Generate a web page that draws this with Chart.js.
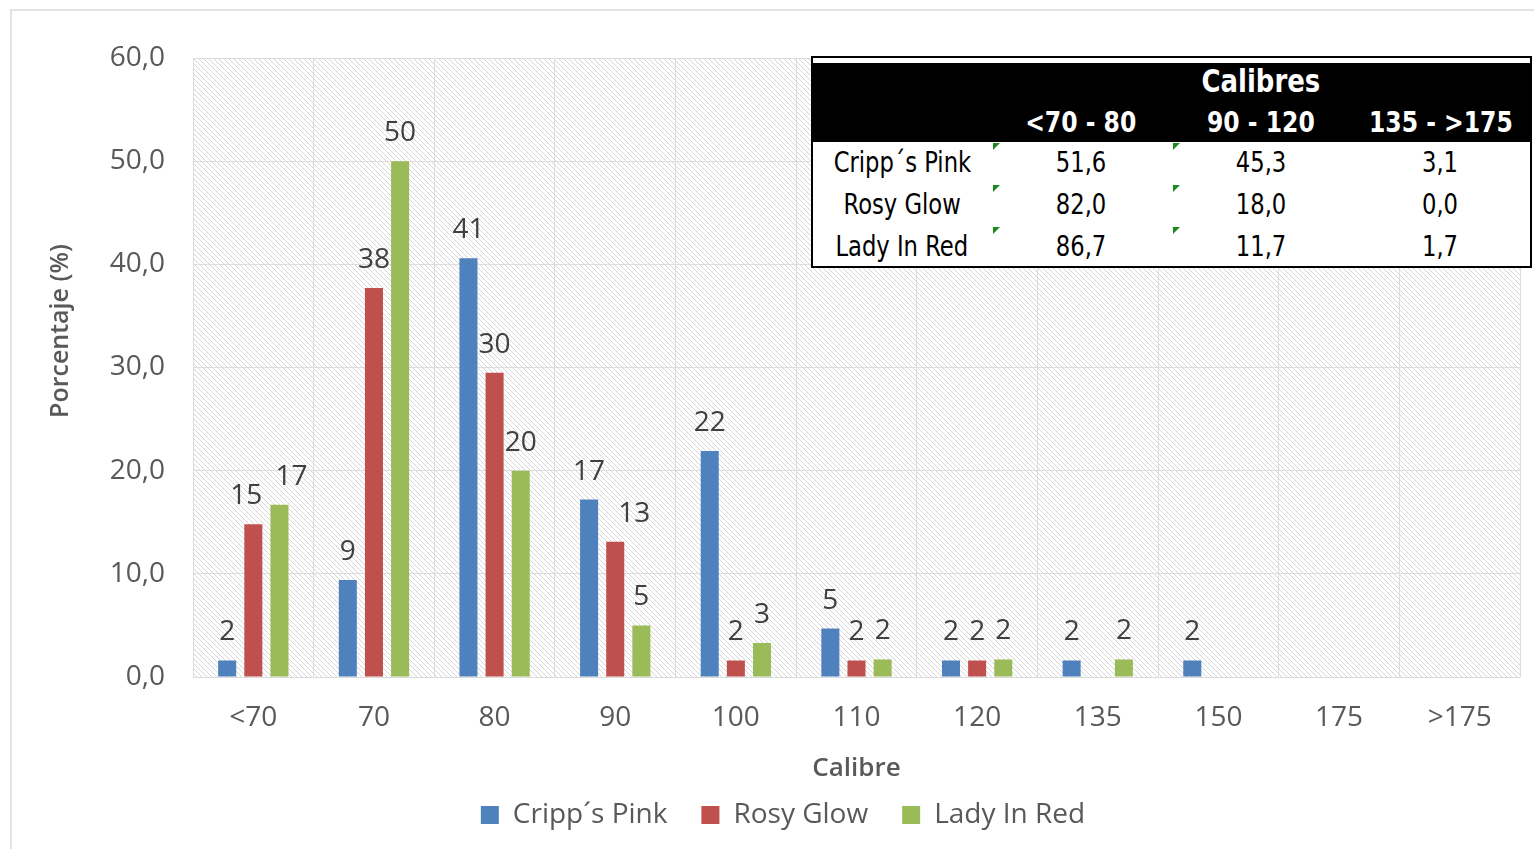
<!DOCTYPE html>
<html>
<head>
<meta charset="utf-8">
<script src="https://cdn.jsdelivr.net/npm/chart.js@4.4.1/dist/chart.umd.min.js"></script>
<style>
  html, body { margin: 0; padding: 0; background: #fff; }
  #wrap { position: relative; width: 1534px; height: 849px; overflow: hidden; }
  #frame { position: absolute; left: 10px; top: 9px; width: 1530px; height: 850px; border-left: 2px solid #e3e3e3; border-top: 2px solid #e3e3e3; }
  canvas { position: absolute; left: 0; top: 0; }
  #tbl { position: absolute; left: 811px; top: 56px; width: 717px; height: 208px; border: 2px solid #000; background: #fff;
         font-family: "Liberation Sans Narrow", "DejaVu Sans Condensed", "Roboto Condensed", "Liberation Sans", sans-serif; }
  #tbl .hdr { position: absolute; left: 0; top: 5px; width: 100%; height: 79px; background: #000; }
  #tbl .c { position: absolute; text-align: center; white-space: nowrap; line-height: 1; }
  #tbl .c span { display: inline-block; transform: scaleX(0.9); transform-origin: center; }
  #tbl .h { color: #fff; font-weight: bold; font-size: 29px; }
  #tbl .t { font-size: 32px; }
  #tbl .v { color: #000; font-size: 28px; }
  #tbl .tri { position: absolute; width: 0; height: 0; border-top: 7px solid #1a8a1a; border-right: 7px solid transparent; }
</style>
</head>
<body>
<div id="wrap">
  <div id="frame"></div>
  <canvas id="chart" width="1534" height="849"></canvas>
  <div id="tbl"></div>
</div>
<script>
// ---- Chart data ----
const categories = ['<70', '70', '80', '90', '100', '110', '120', '135', '150', '175', '>175'];
const seriesNames = ['Cripp\u00b4s Pink', 'Rosy Glow', 'Lady In Red'];
const crippsPink = [1.6, 9.4, 40.6, 17.2, 21.9, 4.7, 1.6, 1.6, 1.6, 0, 0];
const rosyGlow   = [14.8, 37.7, 29.5, 13.1, 1.6, 1.6, 1.6, 0, 0, 0, 0];
const ladyInRed  = [16.7, 50.0, 20.0, 5.0, 3.3, 1.7, 1.7, 1.7, 0, 0, 0];
const yTicks = [0, 10, 20, 30, 40, 50, 60];
const seriesColors = ['#4f81bd', '#c0504d', '#9bbb59'];
const yTitle = 'Porcentaje (%)';
const xTitle = 'Calibre';

// ---- Table data ----
const tableTitle = 'Calibres';
const tableCols = ['<70 - 80', '90 - 120', '135 - >175'];
const tableRows = ['Cripp\u00b4s Pink', 'Rosy Glow', 'Lady In Red'];
const tableVals = [['51,6', '45,3', '3,1'], ['82,0', '18,0', '0,0'], ['86,7', '11,7', '1,7']];

function esc(s) { return s.replace(/</g, '&lt;').replace(/>/g, '&gt;'); }

// build table
(function () {
  const t = document.getElementById('tbl');
  const colX = [0, 178, 358, 538];
  const colW = [178, 180, 180, 179];
  let html = '<div class="hdr"></div>';
  html += `<div class="c h t" style="left:${colX[1]}px;width:${colW[1]+colW[2]+colW[3]}px;top:7px;"><span>${tableTitle}</span></div>`;
  tableCols.forEach((c, i) => {
    html += `<div class="c h" style="left:${colX[i+1]}px;width:${colW[i+1]}px;top:50px;"><span>${esc(c)}</span></div>`;
  });
  tableRows.forEach((r, ri) => {
    const top = 91 + ri * 42;
    html += `<div class="c v" style="left:${colX[0]}px;width:${colW[0]}px;top:${top}px;"><span>${r}</span></div>`;
    tableVals[ri].forEach((v, ci) => {
      html += `<div class="c v" style="left:${colX[ci+1]}px;width:${colW[ci+1]}px;top:${top}px;"><span>${v}</span></div>`;
    });
    html += `<div class="tri" style="left:${colX[1]+2}px;top:${top - 6}px;"></div>`;
    html += `<div class="tri" style="left:${colX[2]+2}px;top:${top - 6}px;"></div>`;
  });
  t.innerHTML = html;
})();

// hatch pattern
function makeHatch() {
  const p = document.createElement('canvas');
  p.width = 5; p.height = 5;
  const c = p.getContext('2d');
  c.fillStyle = '#ffffff';
  c.fillRect(0, 0, 5, 5);
  c.strokeStyle = '#d6d6d6';
  c.lineWidth = 1;
  c.beginPath();
  c.moveTo(-1, -1); c.lineTo(6, 6);
  c.moveTo(-1, 4); c.lineTo(1, 6);
  c.moveTo(4, -1); c.lineTo(6, 1);
  c.stroke();
  return p;
}

const hatchPlugin = {
  id: 'hatch',
  beforeDraw(chart) {
    const {ctx, chartArea: a} = chart;
    ctx.save();
    ctx.fillStyle = ctx.createPattern(makeHatch(), 'repeat');
    ctx.fillRect(a.left, a.top, a.right - a.left, a.bottom - a.top);
    ctx.restore();
  }
};

// small horizontal nudges the original applied to a few crowded labels ("dataset-index")
const labelNudge = { '1-0': -7, '2-0': 12, '1-3': 19 };

const labelPlugin = {
  id: 'valueLabels',
  afterDatasetsDraw(chart) {
    const ctx = chart.ctx;
    ctx.save();
    ctx.font = '28px "Open Sans"';
    ctx.fillStyle = '#404040';
    ctx.textAlign = 'center';
    ctx.textBaseline = 'alphabetic';
    chart.data.datasets.forEach((ds, di) => {
      const meta = chart.getDatasetMeta(di);
      meta.data.forEach((el, i) => {
        const v = ds.data[i];
        const dx = labelNudge[di + '-' + i] || 0;
        if (v > 0) ctx.fillText(String(Math.round(v)), el.x + dx, el.y - 20);
      });
    });
    // y axis title (placed like the original, slightly above the axis centre)
    ctx.save();
    ctx.translate(61, 331);
    ctx.rotate(-Math.PI / 2);
    ctx.font = '600 25px "Open Sans"';
    ctx.fillStyle = '#595959';
    ctx.textAlign = 'center';
    ctx.textBaseline = 'middle';
    ctx.fillText(yTitle, 0, 0);
    ctx.restore();
    ctx.restore();
  }
};

new Chart(document.getElementById('chart'), {
  type: 'bar',
  data: {
    labels: categories,
    datasets: [
      { label: seriesNames[0], data: crippsPink, backgroundColor: seriesColors[0] },
      { label: seriesNames[1], data: rosyGlow, backgroundColor: seriesColors[1] },
      { label: seriesNames[2], data: ladyInRed, backgroundColor: seriesColors[2] }
    ]
  },
  options: {
    responsive: false,
    animation: false,
    datasets: { bar: { categoryPercentage: 0.65, barPercentage: 0.69 } },
    layout: { padding: { left: 46, top: 58, right: 14, bottom: 10 } },
    plugins: {
      legend: {
        position: 'bottom',
        labels: {
          font: { family: 'Open Sans', size: 28 },
          color: '#595959',
          boxWidth: 18, boxHeight: 18,
          padding: 34
        }
      },
      tooltip: { enabled: false }
    },
    scales: {
      x: {
        grid: { color: '#dcdcdc', lineWidth: 1, drawTicks: false },
        border: { display: false },
        ticks: { font: { family: 'Open Sans', size: 28 }, color: '#595959', padding: 24 },
        title: { display: true, text: xTitle, font: { family: 'Open Sans', size: 26, weight: '600' }, color: '#595959', padding: { top: 0, bottom: -17 } },
        afterFit(s) { s.height = 90; }
      },
      y: {
        min: 0, max: 60,
        afterBuildTicks(s) { s.ticks = yTicks.map(v => ({ value: v })); },
        grid: { color: '#dcdcdc', lineWidth: 1, drawTicks: false },
        border: { display: false },
        ticks: {
          font: { family: 'Open Sans', size: 28 }, color: '#595959', padding: 28,
          callback: v => v.toFixed(1).replace('.', ',')
        },
        afterFit(s) { s.width = 147; }
      }
    }
  },
  plugins: [hatchPlugin, labelPlugin]
});
</script>
</body>
</html>
